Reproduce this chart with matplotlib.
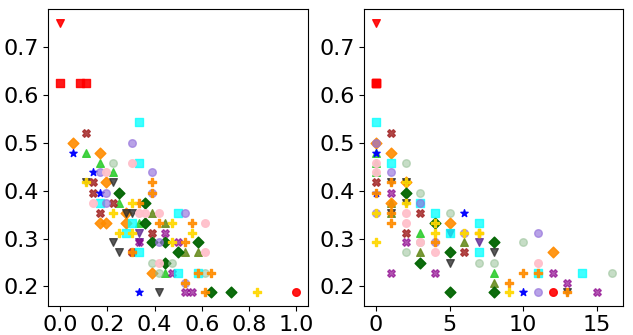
import matplotlib
matplotlib.use("Agg")
import matplotlib.pyplot as plt

# (x, y) points per series; left panel x is a fraction, right panel x is a count
red_v_L = [(0, 0.75)]
red_v_R = [(0, 0.75)]
red_s_L = [(0, 0.625), (0.083, 0.625), (0.111, 0.625)]
red_s_R = [(0, 0.625), (0, 0.625), (0, 0.625)]
red_o_L = [(1.0, 0.188)]
red_o_R = [(12, 0.188)]

lime_L = [(0.111, 0.479), (0.167, 0.458), (0.222, 0.438), (0.25, 0.375), (0.333, 0.333), (0.444, 0.229)]
lime_R = [(0, 0.479), (0, 0.458), (0, 0.438), (3, 0.312), (8, 0.229)]
olive_L = [(0.389, 0.354), (0.444, 0.333), (0.528, 0.271), (0.583, 0.271)]
olive_R = [(1, 0.375), (1, 0.354), (6, 0.292), (3, 0.271), (8, 0.208)]
orD_L = [(0.056, 0.5), (0.167, 0.479), (0.194, 0.417), (0.278, 0.354), (0.167, 0.333), (0.194, 0.333),
         (0.278, 0.333), (0.389, 0.229)]
orD_R = [(0, 0.5), (1, 0.479), (2, 0.417), (1, 0.375), (5, 0.333), (12, 0.271)]
dgv_L = [(0.111, 0.417), (0.222, 0.417), (0.278, 0.354), (0.306, 0.354), (0.222, 0.292), (0.25, 0.271),
         (0.417, 0.188)]
dgv_R = [(1, 0.417), (2, 0.417), (2, 0.375), (1, 0.354), (8, 0.271), (5, 0.25), (13, 0.188)]
indv_L = [(0.333, 0.312), (0.333, 0.292)]
indv_R = [(5, 0.312), (7, 0.292)]
dgD_L = [(0.25, 0.396), (0.361, 0.375), (0.361, 0.333), (0.389, 0.292), (0.444, 0.292), (0.583, 0.292),
         (0.5, 0.271), (0.444, 0.25), (0.639, 0.188), (0.722, 0.188)]
dgD_R = [(2, 0.396), (4, 0.333), (8, 0.292), (5, 0.271), (3, 0.25), (5, 0.188), (8, 0.188)]
brX_L = [(0.111, 0.521), (0.139, 0.417), (0.139, 0.396), (0.222, 0.375), (0.167, 0.354), (0.389, 0.312),
         (0.306, 0.271)]
brX_R = [(1, 0.521), (0, 0.417), (3, 0.354), (2, 0.312), (6, 0.271)]
puX_L = [(0.444, 0.312), (0.333, 0.292), (0.5, 0.292), (0.472, 0.229), (0.528, 0.188), (0.556, 0.188)]
puX_R = [(1, 0.396), (2, 0.292), (1, 0.229), (4, 0.229), (12, 0.229), (13, 0.208), (15, 0.188)]
star_L = [(0.056, 0.479), (0.139, 0.438), (0.167, 0.396), (0.333, 0.188)]
star_R = [(0, 0.479), (0, 0.396), (6, 0.354), (10, 0.188)]
dsg_L = [(0.222, 0.458), (0.389, 0.25), (0.472, 0.25), (0.417, 0.229), (0.611, 0.229)]
dsg_R = [(2, 0.458), (3, 0.396), (5, 0.354), (3, 0.292), (10, 0.292), (2, 0.271), (7, 0.25), (8, 0.25),
         (16, 0.229)]
cyan_L = [(0.333, 0.542), (0.333, 0.458), (0.167, 0.375), (0.5, 0.354), (0.306, 0.333), (0.278, 0.312),
          (0.333, 0.271), (0.5, 0.229), (0.583, 0.229)]
cyan_R = [(0, 0.542), (1, 0.458), (3, 0.375), (4, 0.354), (7, 0.333), (5, 0.312), (7, 0.271), (11, 0.229),
          (14, 0.229)]
puo_L = [(0.306, 0.5), (0.167, 0.438), (0.389, 0.438), (0.194, 0.396), (0.389, 0.396), (0.194, 0.375),
         (0.528, 0.354), (0.417, 0.292), (0.528, 0.208)]
puo_R = [(0, 0.5), (1, 0.438), (3, 0.375), (0, 0.354), (6, 0.312), (11, 0.312), (4, 0.292), (11, 0.188)]
pink_L = [(0.306, 0.458), (0.194, 0.438), (0.139, 0.375), (0.333, 0.354), (0.361, 0.354), (0.417, 0.354),
          (0.611, 0.333), (0.611, 0.271), (0.417, 0.25)]
pink_R = [(0, 0.458), (0, 0.438), (2, 0.354), (2, 0.333), (3, 0.292), (4, 0.271), (11, 0.25)]
orP_L = [(0.389, 0.417), (0.389, 0.396), (0.333, 0.375), (0.417, 0.333), (0.556, 0.333), (0.528, 0.292),
         (0.306, 0.271), (0.583, 0.229), (0.639, 0.229), (0.528, 0.208), (0.611, 0.188)]
orP_R = [(1, 0.417), (0, 0.396), (1, 0.354), (1, 0.333), (7, 0.312), (4, 0.292), (10, 0.229), (11, 0.229),
         (9, 0.208), (13, 0.188)]
gold_L = [(0.111, 0.417), (0.306, 0.375), (0.222, 0.354), (0.472, 0.333), (0.25, 0.312), (0.306, 0.312),
          (0.556, 0.312), (0.472, 0.292), (0.833, 0.188)]
gold_R = [(2, 0.417), (2, 0.375), (0, 0.354), (4, 0.333), (4, 0.312), (6, 0.312), (7, 0.312), (0, 0.292),
          (9, 0.188)]

# drawing order, colour, marker, alpha
SERIES = [
    (red_v_L, red_v_R, "red", "v", 0.9),
    (red_s_L, red_s_R, "red", "s", 0.9),
    (red_o_L, red_o_R, "red", "o", 0.9),
    (lime_L, lime_R, "limegreen", "^", 0.9),
    (olive_L, olive_R, "olivedrab", "^", 0.9),
    (orD_L, orD_R, "darkorange", "D", 0.9),
    (dgv_L, dgv_R, "#303030", "v", 0.8),
    (indv_L, indv_R, "rebeccapurple", "v", 0.85),
    (dgD_L, dgD_R, "darkgreen", "D", 0.95),
    (brX_L, brX_R, "brown", "X", 0.85),
    (puX_L, puX_R, "darkmagenta", "X", 0.65),
    (star_L, star_R, "blue", "*", 0.95),
    (dsg_L, dsg_R, "darkseagreen", "o", 0.5),
    (cyan_L, cyan_R, "cyan", "s", 0.75),
    (puo_L, puo_R, "mediumpurple", "o", 0.65),
    (pink_L, pink_R, "pink", "o", 0.95),
    (orP_L, orP_R, "darkorange", "P", 0.9),
    (gold_L, gold_R, "gold", "P", 0.9),
]

plt.rcParams["font.size"] = 16
fig = plt.figure(figsize=(6.33, 3.35), dpi=100)
ax1 = fig.add_axes([48.3 / 633, 29.3 / 335, 260 / 633, 296.4 / 335])
ax2 = fig.add_axes([364.3 / 633, 29.3 / 335, 259 / 633, 296.4 / 335])
axes = [ax1, ax2]

for left, right, color, marker, alpha in SERIES:
    for ax, pts in zip(axes, (left, right)):
        xs = [p[0] for p in pts]
        ys = [p[1] for p in pts]
        ax.scatter(xs, ys, color=color, marker=marker, alpha=alpha, s=30)

ax1.set_xticks([0.0, 0.2, 0.4, 0.6, 0.8, 1.0])
ax2.set_xticks([0, 5, 10, 15])
for ax in axes:
    ax.set_yticks([0.2, 0.3, 0.4, 0.5, 0.6, 0.7])

fig.savefig("out.png", dpi=100)
